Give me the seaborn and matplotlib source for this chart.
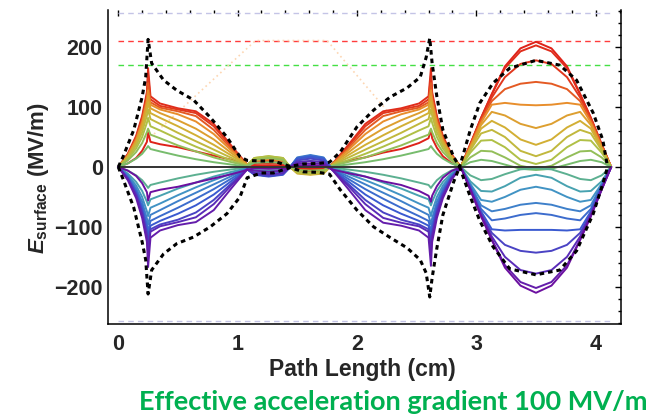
import pandas as pd
import matplotlib
matplotlib.use('Agg')
import matplotlib.pyplot as plt
import seaborn as sns
from matplotlib.colors import LinearSegmentedColormap
from matplotlib.ticker import MultipleLocator

# path length grid (cm): cell 1 | middle lobes | cell 2 | cell 3
path_x = [0, 0.08, 0.15, 0.2, 0.24, 0.25, 0.27, 0.35, 0.5, 0.65, 0.8, 0.95, 1.08,
          1.14, 1.26, 1.38, 1.44, 1.5, 1.61, 1.72,
          1.79, 1.92, 2.07, 2.22, 2.37, 2.52, 2.6, 2.62, 2.63, 2.67, 2.72, 2.79, 2.87,
          2.95, 3.04, 3.13, 3.24, 3.37, 3.5, 3.63, 3.76, 3.87, 3.96, 4.05, 4.13]

# surface field snapshots (MV/m), ordered by phase: red -> purple
curve_00 = [0, 6, 15, 27, 42, 58, 42, 38, 33, 26, 19, 12, 5,
            2, 3, 2, 0, -2, -3, -2,
            4, 10, 16, 24, 30, 40, 48, 62, 48, 32, 18, 7, 0,
            38, 82, 122, 168, 198, 209, 198, 168, 122, 82, 38, 0]
curve_01 = [0, 22, 52, 85, 125, 165, 118, 106, 98, 93, 72, 35, 4,
            5, 6, 5, 0, -4, -5, -4,
            4, 35, 72, 93, 98, 106, 118, 165, 125, 85, 52, 22, 0,
            38, 82, 121, 165, 193, 203, 193, 165, 121, 82, 38, 0]
curve_02 = [0, 21, 50, 82, 120, 152, 113, 102, 96, 90, 68, 33, 4,
            7, 9, 7, 0, -6, -7, -6,
            4, 33, 68, 90, 96, 102, 113, 152, 120, 82, 50, 21, 0,
            37, 80, 116, 150, 172, 178, 172, 150, 116, 80, 37, 0]
curve_03 = [0, 20, 48, 78, 115, 140, 108, 99, 93, 85, 62, 30, 4,
            9, 11, 9, 0, -7, -9, -7,
            4, 30, 62, 85, 93, 99, 108, 140, 115, 78, 48, 20, 0,
            36, 78, 110, 130, 139, 142, 139, 130, 110, 78, 36, 0]
curve_04 = [0, 19, 45, 74, 110, 128, 104, 96, 88, 76, 55, 27, 4,
            11, 13, 11, 0, -9, -11, -9,
            4, 27, 55, 76, 88, 96, 104, 128, 110, 74, 45, 19, 0,
            34, 74, 104, 107, 104, 103, 104, 107, 104, 74, 34, 0]
curve_05 = [0, 18, 43, 70, 104, 118, 98, 90, 78, 64, 46, 23, 4,
            12, 15, 12, 0, -10, -12, -10,
            4, 23, 46, 64, 78, 90, 98, 118, 104, 70, 43, 18, 0,
            32, 70, 92, 86, 72, 65, 72, 86, 92, 70, 32, 0]
curve_06 = [0, 17, 40, 65, 96, 108, 90, 82, 68, 53, 37, 19, 3,
            14, 17, 14, 0, -11, -13, -11,
            3, 19, 37, 53, 68, 82, 90, 108, 96, 65, 40, 17, 0,
            30, 64, 77, 66, 46, 37, 46, 66, 77, 64, 30, 0]
curve_07 = [0, 15, 36, 58, 86, 96, 80, 72, 57, 43, 29, 15, 3,
            15, 18, 15, 0, -10, -12, -10,
            3, 15, 29, 43, 57, 72, 80, 96, 86, 58, 36, 15, 0,
            28, 56, 62, 50, 27, 18, 27, 50, 62, 56, 28, 0]
curve_08 = [0, 13, 31, 50, 74, 82, 68, 61, 47, 34, 22, 11, 2,
            15, 18, 15, 0, -8, -10, -8,
            2, 11, 22, 34, 47, 61, 68, 82, 74, 50, 31, 13, 0,
            24, 44, 45, 33, 12, 5, 12, 33, 45, 44, 24, 0]
curve_09 = [0, 11, 25, 40, 58, 64, 54, 48, 36, 26, 16, 8, 2,
            12, 15, 12, 0, -5, -6, -5,
            2, 8, 16, 26, 36, 48, 54, 64, 58, 40, 25, 11, 0,
            16, 27, 26, 16, 2, -3, 2, 16, 26, 27, 16, 0]
curve_10 = [0, 6, 14, 22, 32, 35, 30, 26, 19, 13, 8, 4, 1,
            7, 8, 7, 0, 2, 2, 2,
            1, 4, 8, 13, 19, 26, 30, 35, 32, 22, 14, 6, 0,
            8, 12, 10, 4, -3, -5, -3, 4, 10, 12, 8, 0]
curve_11 = [0, -6, -14, -22, -32, -35, -30, -26, -19, -13, -8, -4, -1,
            -2, -2, -2, 0, 8, 10, 8,
            -1, -4, -8, -13, -19, -26, -30, -35, -32, -22, -14, -6, 0,
            -14, -22, -20, -12, -4, -2, -4, -12, -20, -22, -14, 0]
curve_12 = [0, -11, -25, -40, -58, -64, -54, -48, -36, -26, -16, -8, -2,
            -5, -6, -5, 0, 12, 15, 12,
            -2, -8, -16, -26, -36, -48, -54, -64, -58, -40, -25, -11, 0,
            -24, -40, -41, -32, -18, -13, -18, -32, -41, -40, -24, 0]
curve_13 = [0, -13, -31, -50, -74, -82, -68, -61, -47, -34, -22, -11, -2,
            -8, -10, -8, 0, 15, 18, 15,
            -2, -11, -22, -34, -47, -61, -68, -82, -74, -50, -31, -13, 0,
            -28, -55, -58, -50, -38, -33, -38, -50, -58, -55, -28, 0]
curve_14 = [0, -15, -36, -58, -86, -96, -80, -72, -57, -43, -29, -15, -3,
            -11, -13, -11, 0, 16, 20, 16,
            -3, -15, -29, -43, -57, -72, -80, -96, -86, -58, -36, -15, 0,
            -30, -64, -74, -70, -63, -60, -63, -70, -74, -64, -30, 0]
curve_15 = [0, -17, -40, -65, -96, -108, -90, -82, -68, -53, -37, -19, -3,
            -12, -15, -12, 0, 15, 19, 15,
            -3, -19, -37, -53, -68, -82, -90, -108, -96, -65, -40, -17, 0,
            -32, -70, -89, -86, -80, -77, -80, -86, -89, -70, -32, 0]
curve_16 = [0, -18, -43, -70, -104, -118, -98, -90, -78, -64, -46, -23, -4,
            -13, -16, -13, 0, 14, 17, 14,
            -4, -23, -46, -64, -78, -90, -98, -118, -104, -70, -43, -18, 0,
            -34, -74, -104, -106, -105, -105, -105, -106, -104, -74, -34, 0]
curve_17 = [0, -19, -45, -74, -110, -128, -104, -96, -88, -76, -55, -27, -4,
            -12, -15, -12, 0, 11, 14, 11,
            -4, -27, -55, -76, -88, -96, -104, -128, -110, -74, -45, -19, 0,
            -36, -78, -110, -130, -140, -143, -140, -130, -110, -78, -36, 0]
curve_18 = [0, -20, -48, -78, -115, -142, -108, -99, -92, -84, -62, -30, -4,
            -10, -12, -10, 0, 8, 10, 8,
            -4, -30, -62, -85, -93, -99, -108, -142, -115, -78, -48, -20, 0,
            -37, -80, -116, -150, -172, -178, -172, -150, -116, -80, -37, 0]
curve_19 = [0, -22, -52, -85, -125, -167, -118, -106, -97, -92, -72, -35, -4,
            -6, -8, -6, 0, 5, 6, 5,
            -4, -35, -72, -93, -98, -106, -118, -165, -125, -85, -52, -22, 0,
            -38, -82, -121, -164, -192, -202, -192, -164, -121, -82, -38, 0]
curve_20 = [0, -6, -15, -27, -42, -56, -42, -38, -33, -26, -19, -12, -5,
            -2, -3, -2, 0, 2, 3, 2,
            -4, -10, -16, -24, -30, -40, -48, -58, -48, -32, -18, -7, 0,
            -38, -82, -122, -168, -198, -210, -198, -168, -122, -82, -38, 0]

curves = [curve_00, curve_01, curve_02, curve_03, curve_04, curve_05, curve_06,
          curve_07, curve_08, curve_09, curve_10, curve_11, curve_12, curve_13,
          curve_14, curve_15, curve_16, curve_17, curve_18, curve_19, curve_20]

# black dotted envelopes
env_x = [0, 0.04, 0.13, 0.2, 0.23, 0.25, 0.28, 0.38, 0.49, 0.63, 0.77, 0.91, 1.02,
         1.08, 1.2, 1.3, 1.44, 1.55, 1.68, 1.77, 1.86, 2.0, 2.14, 2.28, 2.42,
         2.53, 2.58, 2.61, 2.63, 2.67, 2.72, 2.81, 2.86, 2.95, 3.03, 3.14, 3.28,
         3.5, 3.7, 3.84, 3.98, 4.06, 4.1]
env_upper = [0, 17, 62, 117, 150, 213, 173, 145, 128, 112, 83, 50, 17,
             11, 10, 10, 1, 5, 6, 8, 25, 67, 95, 117, 132,
             150, 183, 215, 173, 117, 62, 17, 0, 62, 107, 140, 165,
             178, 170, 145, 90, 45, 0]
env_lower = [0, -20, -68, -125, -155, -212, -172, -145, -128, -117, -100, -78, -50,
             -18, -10, -10, -1, -8, -9, -12, -38, -72, -100, -118, -135,
             -155, -177, -217, -185, -135, -80, -25, 0, -50, -90, -133, -170,
             -180, -172, -140, -78, -28, 0]

# faint peach dotted trace
trace_x = [0.3, 1.15, 1.75, 2.3]
trace_y = [55, 211, 211, 83]

# horizontal reference levels (MV/m)
red_level = 211
green_level = 171
grey_levels = [257, -257]
line_start, line_end = 0, 4.13

sns.set_style('white')
plt.rcParams['font.family'] = ['Liberation Sans', 'DejaVu Sans']
plt.rcParams['font.weight'] = 'bold'
plt.rcParams['mathtext.fontset'] = 'custom'
plt.rcParams['mathtext.rm'] = 'Liberation Sans:bold'
plt.rcParams['mathtext.it'] = 'Liberation Sans:italic:bold'
plt.rcParams['mathtext.bf'] = 'Liberation Sans:bold'

rows = []
for k, vals in enumerate(curves):
    for x, v in zip(path_x, vals):
        rows.append((x, v, 'c%02d' % k))
df = pd.DataFrame(rows, columns=['path', 'E', 'curve'])

cmap = LinearSegmentedColormap.from_list('phase', [
    (0.0, '#de2219'), (0.12, '#e23c1e'), (0.2, '#e88e2c'), (0.3, '#d2b034'),
    (0.4, '#b0c046'), (0.5, '#78bc6c'), (0.58, '#4aa8a8'), (0.66, '#4090c8'),
    (0.8, '#3a5ad0'), (0.9, '#5a2cb8'), (1.0, '#6c10a0')])
names = sorted(df['curve'].unique())
palette = {n: cmap(i / (len(names) - 1)) for i, n in enumerate(names)}

fig = plt.figure(figsize=(6.52, 4.18), dpi=100)
ax = fig.add_axes([0.166, 0.225, 0.786, 0.751])

ax.hlines(grey_levels, line_start, line_end, colors='#c4c4e6', linewidth=1,
          linestyles=(0, (4, 3)))
ax.hlines(red_level, line_start, line_end, colors='#ff3c3c', linewidth=1,
          linestyles=(0, (4, 3)))
ax.hlines(green_level, line_start, line_end, colors='#44e044', linewidth=1,
          linestyles=(0, (4, 3)))
ax.plot(trace_x, trace_y, color='#fdd6b2', linewidth=1.2, linestyle=(0, (1, 2)))

sns.lineplot(data=df, x='path', y='E', hue='curve', palette=palette,
             estimator=None, sort=False, legend=False, linewidth=1.4, ax=ax)

ax.hlines(0, line_start, line_end, colors='#333333', linewidth=1.4)
ax.plot(env_x, env_upper, color='black', linewidth=2.2, linestyle=(0, (1.5, 1.3)))
ax.plot(env_x, env_lower, color='black', linewidth=2.2, linestyle=(0, (1.5, 1.3)))

ax.set_xlim(-0.084, 4.21)
ax.set_ylim(-262, 262)
ax.xaxis.set_major_locator(MultipleLocator(1))
ax.xaxis.set_minor_locator(MultipleLocator(0.2))
ax.yaxis.set_major_locator(MultipleLocator(100))
ax.yaxis.set_minor_locator(MultipleLocator(20))
ax.tick_params(which='both', direction='in', top=True, right=True, width=1,
               color='black')
ax.tick_params(which='major', length=4.5, labelsize=15.5, pad=7)
ax.tick_params(which='minor', length=2.5)
ax.tick_params(axis='y', which='major', pad=4)
for lab in ax.get_xticklabels() + ax.get_yticklabels():
    lab.set_fontweight('bold')

ax.spines['top'].set_visible(False)
for s in ['left', 'right', 'bottom']:
    ax.spines[s].set_color('black')
    ax.spines[s].set_linewidth(1.1)

ax.set_xlabel('Path Length (cm)', fontsize=16.5, fontweight='bold')
ax.xaxis.set_label_coords(0.495, -0.108)
ax.set_ylabel(r'$E_{\mathrm{surface}}$ (MV/m)', fontsize=16, fontweight='bold')
ax.yaxis.set_label_coords(-0.112, 0.465)

fig.text(0.213, 0.019, 'Effective acceleration gradient 100 MV/m',
         fontsize=19.5, fontweight='bold', color='#00b050',
         family=['Lato', 'DejaVu Sans'], ha='left', va='baseline')

fig.savefig('out.png', dpi=100)
